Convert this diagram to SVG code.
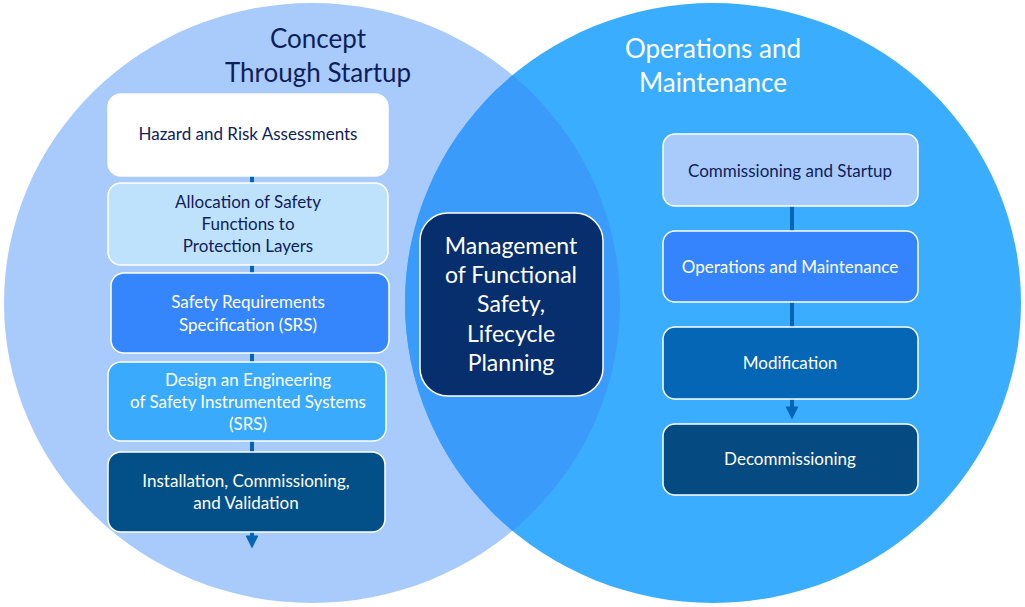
<svg xmlns="http://www.w3.org/2000/svg" width="1025" height="607" viewBox="0 0 1025 607">
<style>
.box{stroke:#ffffff;stroke-width:1.5}
.t{font-family:Lato,"Open Sans","Liberation Sans",sans-serif;font-size:17px;text-anchor:middle}
.c{font-size:23px}
.dk{fill:#0f1d5a}
.wt{fill:#ffffff}
.title{font-family:Lato,"Open Sans","Liberation Sans",sans-serif;font-size:26px;text-anchor:middle}
.conn{stroke:#0565b5;stroke-width:4;fill:none}
</style>
<defs>
<clipPath id="leftClip"><ellipse cx="312" cy="303" rx="308" ry="300"/></clipPath>
<marker id="arr" viewBox="0 0 10 10" refX="5" refY="5" markerWidth="3.4" markerHeight="3.2" orient="auto" markerUnits="strokeWidth"><path d="M0,0 L10,5 L0,10 z" fill="#0565b5"/></marker>
</defs>
<g id="circles">
<ellipse cx="312" cy="303" rx="308" ry="300" fill="#a8cbfb"/>
<ellipse cx="713" cy="303" rx="308" ry="300" fill="#3aadfe"/>
<ellipse cx="713" cy="303" rx="308" ry="300" fill="#3b9bfb" clip-path="url(#leftClip)"/>
</g>
<g id="titles">
<text class="title dk" x="318" y="48">Concept</text>
<text class="title dk" x="318" y="82">Through Startup</text>
<text class="title wt" x="713" y="58">Operations and</text>
<text class="title wt" x="713" y="92">Maintenance</text>
</g>
<g id="connectors">
<line class="conn" x1="252" y1="176" x2="252" y2="184"/>
<line class="conn" x1="252" y1="265" x2="252" y2="274"/>
<line class="conn" x1="252" y1="353" x2="252" y2="363"/>
<line class="conn" x1="252" y1="441" x2="252" y2="453"/>
<line class="conn" x1="252" y1="532" x2="252" y2="542" marker-end="url(#arr)"/>
<line class="conn" x1="792" y1="206" x2="792" y2="232"/>
<line class="conn" x1="792" y1="302" x2="792" y2="328"/>
<line class="conn" x1="792" y1="399" x2="792" y2="413" marker-end="url(#arr)"/>
</g>
<g id="n1"><rect class="box" x="108" y="94" width="280" height="82" rx="13" fill="#ffffff"/><text class="t dk" x="248" y="140">Hazard and Risk Assessments</text></g>
<g id="n2"><rect class="box" x="108" y="183" width="280" height="82" rx="13" fill="#bfe2fc"/><text class="t dk" x="248" y="208">Allocation of Safety</text><text class="t dk" x="248" y="230">Functions to</text><text class="t dk" x="248" y="252">Protection Layers</text></g>
<g id="n3"><rect class="box" x="111" y="273" width="278" height="80" rx="13" fill="#3585fd"/><text class="t wt" x="248" y="308">Safety Requirements</text><text class="t wt" x="248" y="331">Specification (SRS)</text></g>
<g id="n4"><rect class="box" x="108" y="362" width="278" height="79" rx="13" fill="#3aabfc"/><text class="t wt" x="248" y="386">Design an Engineering</text><text class="t wt" x="248" y="408">of Safety Instrumented Systems</text><text class="t wt" x="248" y="430">(SRS)</text></g>
<g id="n5"><rect class="box" x="108" y="452" width="277" height="80" rx="13" fill="#034f88"/><text class="t wt" x="246" y="487">Installation, Commissioning,</text><text class="t wt" x="246" y="509">and Validation</text></g>
<g id="center"><rect class="box" x="420" y="213" width="183" height="183" rx="28" fill="#072f6e" stroke-width="2"/>
<text class="t c wt" x="511" y="254">Management</text>
<text class="t c wt" x="511" y="283">of Functional</text>
<text class="t c wt" x="511" y="312">Safety,</text>
<text class="t c wt" x="511" y="342">Lifecycle</text>
<text class="t c wt" x="511" y="371">Planning</text></g>
<g id="r1"><rect class="box" x="663" y="134" width="255" height="72" rx="12" fill="#a9cbfb"/><text class="t dk" x="790" y="177">Commissioning and Startup</text></g>
<g id="r2"><rect class="box" x="663" y="231" width="255" height="71" rx="12" fill="#3584fd"/><text class="t wt" x="790" y="273">Operations and Maintenance</text></g>
<g id="r3"><rect class="box" x="663" y="327" width="255" height="72" rx="12" fill="#0466b5"/><text class="t wt" x="790" y="369">Modification</text></g>
<g id="r4"><rect class="box" x="663" y="424" width="255" height="71" rx="12" fill="#064a82"/><text class="t wt" x="790" y="465">Decommissioning</text></g>
</svg>
